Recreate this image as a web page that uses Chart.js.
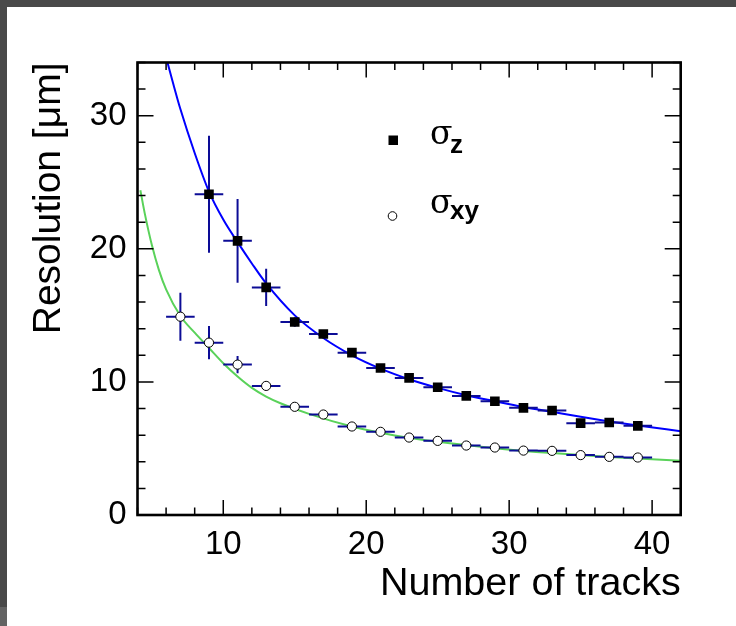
<!DOCTYPE html>
<html><head><meta charset="utf-8">
<script src="https://cdn.jsdelivr.net/npm/chart.js@4.4.0/dist/chart.umd.min.js"></script>
<style>
html,body{margin:0;padding:0;background:#fff;}
#wrap{position:relative;width:736px;height:626px;overflow:hidden;background:#fff;}
#c{position:absolute;left:0;top:0;}
.band{position:absolute;background:#494949;}
</style></head><body>
<div id="wrap">
<canvas id="c" width="736" height="626"></canvas>
<div class="band" style="left:0;top:0;width:736px;height:7px"></div>
<div class="band" style="left:0;top:0;width:7px;height:607px"></div>
<div class="band" style="left:0;top:607px;width:7px;height:19px;background:#636363"></div>
</div>
<script>
// ---- data ----
const tracksZ = [9,11,13,15,17,19,21,23,25,27,29,31,33,35,37,39];
const sigmaZ = [24.1,20.6,17.1,14.5,13.6,12.2,11.05,10.3,9.6,8.95,8.55,8.05,7.85,6.9,6.95,6.7];
const sigmaZErr = [4.4,3.15,1.4,0.35,0.3,0.3,0.25,0.25,0.25,0.25,0.25,0.25,0.25,0.25,0.25,0.25];
const tracksXY = [7,9,11,13,15,17,19,21,23,25,27,29,31,33,35,37,39];
const sigmaXY = [14.9,12.95,11.3,9.7,8.13,7.55,6.65,6.25,5.82,5.57,5.22,5.07,4.84,4.82,4.5,4.37,4.32];
const sigmaXYErr = [1.8,1.25,0.65,0.3,0.2,0.2,0.2,0.2,0.2,0.2,0.2,0.2,0.2,0.2,0.2,0.2,0.2];
const tracksErr = [1,1,1,1,1,1,1,1,1,1,1,1,1,1,1,1,1];
// fit curves
const fitZx = [6.1,6.5,7,8,9,10,11,12,13,15,17,19,21,23,25,27,29,31,33,35,37,39,42];
const fitZy = [34.0,32.4,30.5,27.2,24.3,22.2,20.5,18.9,17.4,15.0,13.3,12.0,11.0,10.2,9.55,9.0,8.55,8.12,7.75,7.38,7.03,6.72,6.3];
const fitXYx = [4.2,4.5,5,5.5,6,7,8,9,10,11,12,13,14,16,19,22,25,29,33,37,42];
const fitXYy = [24.4,22.7,20.3,18.4,16.95,14.95,13.7,12.55,11.4,10.4,9.55,8.9,8.4,7.6,6.65,5.98,5.5,5.02,4.65,4.36,4.07];
const xMajorTicks = [10,20,30,40];
const yMajorTicks = [0,10,20,30];
const xTitle = 'Number of tracks';
const yTitle = 'Resolution [\u03BCm]';

const pts = (xs, ys) => xs.map((v,i)=>({x:v, y:ys[i]}));
function hBars(xs, ys, xe){ const d=[]; xs.forEach((v,i)=>{d.push({x:v-xe[i],y:ys[i]},{x:v+xe[i],y:ys[i]},{x:v,y:null});}); return d; }
function vBars(xs, ys, ye){ const d=[]; xs.forEach((v,i)=>{d.push({x:v,y:ys[i]-ye[i]},{x:v,y:ys[i]+ye[i]},{x:v,y:null});}); return d; }

const SANS = "'Liberation Sans', Arial, Helvetica, sans-serif";
const errColor = '#0c0c96';

const framePlugin = {
  id:'frame',
  afterDraw(chart){
    const {ctx, chartArea:a, scales:{x, y}} = chart;
    ctx.save();
    ctx.strokeStyle='#000'; ctx.lineWidth=1.5;
    ctx.beginPath();
    x.ticks.forEach(t=>{
      const px=x.getPixelForValue(t.value);
      const L = xMajorTicks.includes(t.value)?15:7.5;
      ctx.moveTo(px,a.bottom); ctx.lineTo(px,a.bottom-L);
      ctx.moveTo(px,a.top); ctx.lineTo(px,a.top+L);
    });
    y.ticks.forEach(t=>{
      const py=y.getPixelForValue(t.value);
      const L = yMajorTicks.includes(t.value)?16:8;
      ctx.moveTo(a.left,py); ctx.lineTo(a.left+L,py);
      ctx.moveTo(a.right,py); ctx.lineTo(a.right-L,py);
    });
    ctx.stroke();
    ctx.lineWidth=2.6;
    ctx.strokeRect(a.left,a.top,a.right-a.left,a.bottom-a.top);
    // legend
    ctx.fillStyle='#000';
    ctx.fillRect(388.5,135.5,9.5,9.5);
    ctx.beginPath(); ctx.lineWidth=1; ctx.arc(392.5,216,4.3,0,Math.PI*2); ctx.stroke();
    ctx.textBaseline='alphabetic'; ctx.textAlign='left';
    ctx.font="33px 'DejaVu Serif', 'Liberation Serif', serif";
    ctx.fillText('\u03C3',430,144);
    ctx.fillText('\u03C3',430,213);
    ctx.font="bold 26px "+SANS;
    ctx.fillText('z',450,153);
    ctx.fillText('xy',450,219);
    ctx.restore();
  }
};

new Chart(document.getElementById('c'), {
  type:'line',
  data:{datasets:[
    {data:pts(tracksZ,sigmaZ), showLine:false, pointStyle:'rect', pointRadius:6.8, backgroundColor:'#000', borderWidth:0, order:0},
    {data:pts(tracksXY,sigmaXY), showLine:false, pointStyle:'circle', pointRadius:4.6, backgroundColor:'#fff', borderColor:'#000', borderWidth:1, order:0},
    {data:hBars(tracksZ,sigmaZ,tracksErr), borderColor:errColor, borderWidth:2, pointRadius:0, spanGaps:false, order:1},
    {data:vBars(tracksZ,sigmaZ,sigmaZErr), borderColor:errColor, borderWidth:2, pointRadius:0, spanGaps:false, order:1},
    {data:hBars(tracksXY,sigmaXY,tracksErr), borderColor:errColor, borderWidth:2, pointRadius:0, spanGaps:false, order:1},
    {data:vBars(tracksXY,sigmaXY,sigmaXYErr), borderColor:errColor, borderWidth:2, pointRadius:0, spanGaps:false, order:1},
    {data:pts(fitZx,fitZy), borderColor:'#0000ff', borderWidth:2, pointRadius:0, cubicInterpolationMode:'monotone', order:2},
    {data:pts(fitXYx,fitXYy), borderColor:'#5ad25a', borderWidth:2, pointRadius:0, cubicInterpolationMode:'monotone', order:2}
  ]},
  options:{
    responsive:false, animation:false, events:[],
    layout:{padding:{top:62.5,right:55.3,left:0,bottom:0}},
    plugins:{legend:{display:false}, tooltip:{enabled:false}},
    scales:{
      x:{type:'linear', min:4, max:42,
        afterFit(s){ s.height=111; },
        grid:{display:false, drawTicks:false}, border:{display:false},
        ticks:{stepSize:2, includeBounds:false, autoSkip:false, maxRotation:0, padding:10, color:'#000',
          font:{family:SANS, size:33},
          callback:v=> xMajorTicks.includes(v)? String(v):''},
        title:{display:true, text:xTitle, align:'end', color:'#000', font:{family:SANS,size:39.5}, padding:{top:0,bottom:18}}
      },
      y:{type:'linear', min:0, max:34,
        afterFit(s){ s.width=137.5; },
        grid:{display:false, drawTicks:false}, border:{display:false},
        ticks:{stepSize:2, includeBounds:false, autoSkip:false, padding:11, color:'#000',
          font:{family:SANS, size:33},
          callback:v=> yMajorTicks.includes(v)? String(v):''},
        title:{display:true, text:yTitle, align:'end', color:'#000', font:{family:SANS,size:39}, padding:{top:26,bottom:0}}
      }
    }
  },
  plugins:[framePlugin]
});
</script>
</body></html>
